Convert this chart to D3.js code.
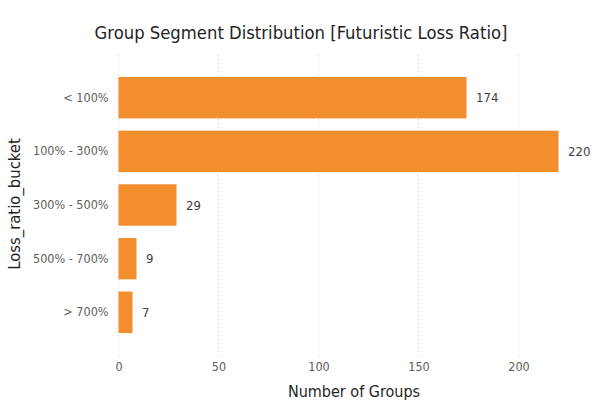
<!DOCTYPE html>
<html><head><meta charset="utf-8">
<script src="https://cdn.jsdelivr.net/npm/d3@7"></script>
<style>body{margin:0;background:#fff}svg{display:block}text{font-family:"DejaVu Sans Condensed","DejaVu Sans",sans-serif}</style>
</head><body><svg id="c" width="600" height="411"></svg>
<script>
const categories = ["< 100%", "100% - 300%", "300% - 500%", "500% - 700%", "> 700%"];
const values = [174, 220, 29, 9, 7];
const xTicks = [0, 50, 100, 150, 200];
const title = "Group Segment Distribution [Futuristic Loss Ratio]";
const xTitle = "Number of Groups";
const yTitle = "Loss_ratio_bucket";

const svg = d3.select("#c");
const x = d3.scaleLinear().domain([0, 200]).range([118.5, 518.5]);
const y = d3.scaleBand().domain(categories).range([63.6, 346.4]).paddingInner(0.228).paddingOuter(0.25);

svg.append("text").attr("x", 301).attr("y", 39).attr("text-anchor", "middle")
  .attr("font-size", 18.3).attr("fill", "#252423").text(title);

svg.append("g").selectAll("line").data(xTicks).join("line")
  .attr("x1", d => x(d)).attr("x2", d => x(d)).attr("y1", 55).attr("y2", 357)
  .attr("stroke", "#d0d0d0").attr("stroke-width", 1).attr("stroke-dasharray", "1,3");

const xa = svg.append("g").attr("transform", "translate(0,362)")
  .call(d3.axisBottom(x).tickValues(xTicks).tickSize(0).tickPadding(0));
xa.select(".domain").remove();
xa.selectAll("text").attr("font-size", 12.5).attr("fill", "#605E5C").attr("dy", "0.71em")
  .style("font-family", '"DejaVu Sans Condensed","DejaVu Sans",sans-serif');

const ya = svg.append("g").attr("transform", "translate(108.5,0)")
  .call(d3.axisLeft(y).tickSize(0).tickPadding(0));
ya.select(".domain").remove();
ya.selectAll("text").attr("font-size", 12.5).attr("fill", "#605E5C")
  .style("font-family", '"DejaVu Sans Condensed","DejaVu Sans",sans-serif');

svg.append("g").selectAll("rect").data(values).join("rect")
  .attr("x", x(0)).attr("y", (d, i) => y(categories[i]))
  .attr("width", d => x(d) - x(0)).attr("height", y.bandwidth())
  .attr("fill", "#F28E2B");

svg.append("g").selectAll("text").data(values).join("text")
  .attr("x", d => x(d) + 9.5).attr("y", (d, i) => y(categories[i]) + y.bandwidth() / 2)
  .attr("dy", "0.35em").attr("font-size", 13).attr("fill", "#404040").text(d => d);

svg.append("text").attr("x", 354).attr("y", 397).attr("text-anchor", "middle")
  .attr("font-size", 16).attr("fill", "#252423").text(xTitle);

svg.append("text").attr("transform", "translate(19.5,204) rotate(-90)").attr("text-anchor", "middle")
  .attr("font-size", 16.5).attr("fill", "#252423").text(yTitle);
</script></body></html>
